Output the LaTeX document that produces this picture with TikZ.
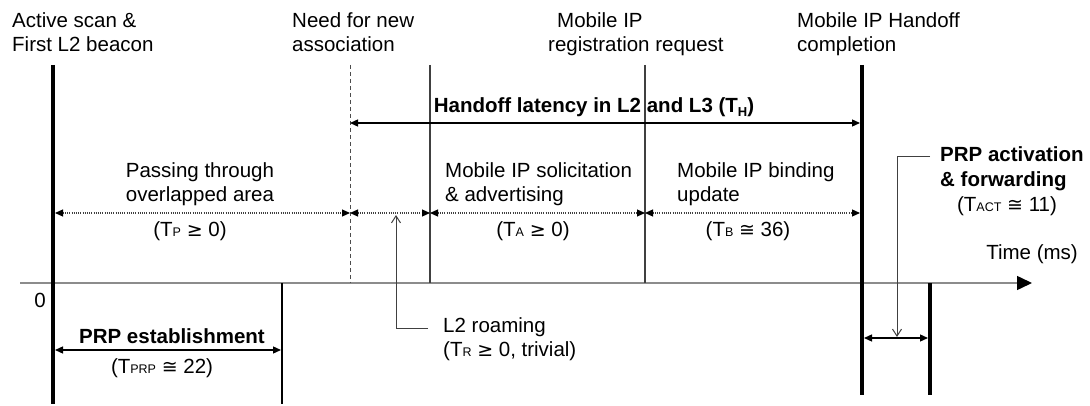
\documentclass[tikz,border=0pt]{standalone}
\usepackage{fontspec}
\setmainfont{Liberation Sans}
\newfontfamily\symf{DejaVu Sans}
\usetikzlibrary{arrows.meta}
\newcommand{\sbs}[1]{{\fontsize{12.5}{12.5}\selectfont #1}}
\newcommand{\mygeq}{{\symf\fontsize{19}{19}\selectfont ≥}}
\newcommand{\mycong}{{\symf\fontsize{19}{19}\selectfont ≅}}
\begin{document}
\begin{tikzpicture}[x=1pt,y=-1pt,
  font=\fontsize{20.5}{24}\selectfont,
  txt/.style={inner sep=0pt, align=left},
  thickline/.style={line width=3.5pt, draw=black},
  thinline/.style={line width=1.5pt, draw=black!75},
  dashline/.style={line width=1pt, draw=black!70, dash pattern=on 4pt off 3pt},
  dotarrow/.style={line width=1.2pt, draw=black!75, dash pattern=on 1pt off 1.2pt,
     {Triangle[length=8pt,width=7pt,color=black]}-{Triangle[length=8pt,width=7pt,color=black]}},
  solidarrow/.style={line width=1.3pt, draw=black,
     {Triangle[length=8pt,width=7pt]}-{Triangle[length=8pt,width=7pt]}},
  axisline/.style={line width=1.5pt, draw=black!45, -{Triangle[length=15pt,width=14pt,color=black]}},
  callout/.style={line width=1pt, draw=black!75, -{Straight Barb[length=7pt,width=9pt]}}
]
\useasboundingbox (0,0) rectangle (1090,406);

% coordinates of the time marks
\coordinate (a0) at (53,65);   \coordinate (a1) at (53,404);
\coordinate (n0) at (350,65);  \coordinate (n1) at (350,283);
\coordinate (s0) at (430,65);  \coordinate (s1) at (430,283);
\coordinate (r0) at (645,65);  \coordinate (r1) at (645,283);
\coordinate (h0) at (862,65);  \coordinate (h1) at (862,395);
\coordinate (f0) at (930,283); \coordinate (f1) at (930,395);
\coordinate (p0) at (282,283); \coordinate (p1) at (282,404);
\coordinate (x0) at (20,283);  \coordinate (x1) at (1032,283);

% time axis
\draw[axisline] (x0) -- (x1);

% vertical marks
\draw[thickline] (a0) -- (a1);
\draw[dashline] (n0) -- (n1);
\draw[thinline] (s0) -- (s1);
\draw[thinline] (r0) -- (r1);
\draw[thickline] (h0) -- (h1);
\draw[thickline] (f0) -- (f1);
\draw[line width=1.8pt] (p0) -- (p1);

% handoff latency
\coordinate (hl0) at (350,123); \coordinate (hl1) at (860,123);
\draw[solidarrow] (hl0) -- (hl1);
\node[txt, anchor=base, font=\fontsize{20.5}{24}\selectfont\bfseries] (tH) at (594,113)
  {Handoff latency in L2 and L3 (T\raisebox{-3.5pt}{\fontsize{13}{13}\selectfont H})};

% dotted intervals
\coordinate (d0) at (55,213);
\coordinate (d1) at (350,213);
\coordinate (d2) at (430,213);
\coordinate (d3) at (645,213);
\coordinate (d4) at (860,213);
\draw[dotarrow] (d0) -- (d1);
\draw[dotarrow] (d1) -- (d2);
\draw[dotarrow] (d2) -- (d3);
\draw[dotarrow] (d3) -- (d4);

% top labels (base anchor = last line)
\node[txt, anchor=base west] (tA) at (12,52) {Active scan \&\\First L2 beacon};
\node[txt, anchor=base west] (tN) at (292,52) {Need for new\\association};
\node[txt, anchor=base west] (tM) at (548,52) {\hspace*{9pt}Mobile IP\\registration request};
\node[txt, anchor=base west] (tC) at (797,52) {Mobile IP Handoff\\completion};

% interval labels
\node[txt, anchor=base, align=center] (tP) at (200,202) {Passing through\\overlapped area};
\node[txt, anchor=base] (tTP) at (190,237) {(T\sbs{P} \mygeq{} 0)};
\node[txt, anchor=base west] (tS) at (445,202) {Mobile IP solicitation\\\& advertising};
\node[txt, anchor=base] (tTA) at (533,237) {(T\sbs{A} \mygeq{} 0)};
\node[txt, anchor=base west] (tB) at (677,202) {Mobile IP binding\\update};
\node[txt, anchor=base] (tTB) at (748,237) {(T\sbs{B} \mycong{} 36)};

% PRP activation
\node[txt, anchor=base west, font=\fontsize{20.5}{25}\selectfont\bfseries] (tPA) at (940,187) {PRP activation\\\& forwarding};
\node[txt, anchor=base] (tTACT) at (1007,212) {(T\sbs{ACT} \mycong{} 11)};
\coordinate (pa0) at (930,157); \coordinate (pa1) at (897,157);
\coordinate (pa2) at (897,337);
\draw[callout] (pa0) -- (pa1) -- (pa2);
\coordinate (q0) at (864,338); \coordinate (q1) at (928,338);
\draw[solidarrow] (q0) -- (q1);

% axis labels
\node[txt, anchor=base east] (tTime) at (1078,260) {Time (ms)};
\node[txt, anchor=base] (t0) at (40,307) {0};

% PRP establishment
\node[txt, anchor=base, font=\fontsize{20.5}{24}\selectfont\bfseries] (tPRP) at (172,343) {PRP establishment};
\coordinate (e0) at (55,350); \coordinate (e1) at (281,350);
\draw[solidarrow] (e0) -- (e1);
\node[txt, anchor=base] (tTPRP) at (162,373) {(T\sbs{PRP} \mycong{} 22)};

% L2 roaming
\coordinate (l0) at (428,328); \coordinate (l1) at (396,328); \coordinate (l2) at (396,215);
\draw[callout] (l0) -- (l1) -- (l2);
\node[txt, anchor=base west] (tL2) at (443,356) {L2 roaming\\(T\sbs{R} \mygeq{} 0, trivial)};
\end{tikzpicture}
\end{document}
